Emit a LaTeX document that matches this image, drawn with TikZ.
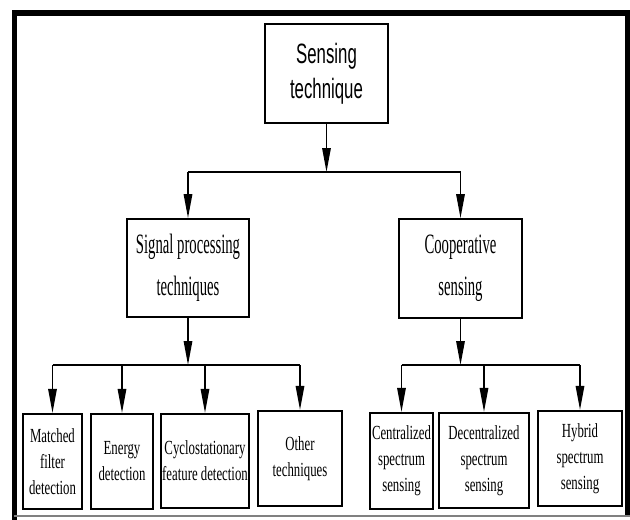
\documentclass[tikz,border=0pt]{standalone}
\usepackage{fontspec}
\setmainfont{Liberation Serif}
\newfontfamily\topfont[FakeStretch=0.6]{Liberation Sans}
\newfontfamily\midfont[FakeStretch=0.525]{Liberation Serif}
\newfontfamily\leaffont[FakeStretch=0.64]{Liberation Serif}
\usetikzlibrary{arrows.meta}
\begin{document}
\begin{tikzpicture}[x=1pt,y=-1pt,
  box/.style={draw, line width=1.6pt, inner sep=0pt, align=center},
  topbox/.style={box, font=\topfont\fontsize{28}{35}\selectfont},
  midbox/.style={box, line width=1.8pt, font=\midfont\fontsize{28}{42}\selectfont},
  leafbox/.style={box, line width=2.2pt, font=\leaffont\fontsize{20}{26}\selectfont},
  link/.style={line width=1.5pt},
  arr/.style={link, -{Triangle[length=24pt,width=8.5pt]}},
  frameline/.style={line width=#1}]
\useasboundingbox (0,0) rectangle (630,520);
% frame
\draw[frameline=6pt] (12,13) -- (629.5,13);
\draw[frameline=5pt] (14.5,10) -- (14.5,520);
\draw[frameline=4.5pt] (627.3,10) -- (627.3,516);
\draw[gray, line width=2pt] (14,516) -- (630,516);
% nodes
\node[topbox, minimum width=123pt, minimum height=99pt] (top) at (326.5,73.5) {Sensing\\technique};
\node[midbox, minimum width=122pt, minimum height=98pt] (sp) at (188,268) {Signal processing\\techniques};
\node[midbox, minimum width=123pt, minimum height=99pt] (coop) at (460.5,268.5) {Cooperative\\sensing};
\node[leafbox, minimum width=59pt, minimum height=95pt] (m1) at (52.5,461.5) {Matched\\filter\\detection};
\node[leafbox, minimum width=62pt, minimum height=95pt] (m2) at (122,461.5) {Energy\\detection};
\node[leafbox, minimum width=88pt, minimum height=94pt] (m3) at (205,461) {Cyclostationary\\feature detection};
\node[leafbox, minimum width=84pt, minimum height=95pt] (m4) at (300,458.5) {Other\\techniques};
\node[leafbox, minimum width=63pt, minimum height=96pt] (c1) at (401.5,461) {Centralized\\spectrum\\sensing};
\node[leafbox, minimum width=90pt, minimum height=95pt] (c2) at (484,460.5) {Decentralized\\spectrum\\sensing};
\node[leafbox, minimum width=84pt, minimum height=95pt] (c3) at (580,458.5) {Hybrid\\spectrum\\sensing};
% junctions
\coordinate (j1) at (326.5,172);
\coordinate (j2) at (188,365);
\coordinate (j3) at (460.5,365);
% connectors
\draw[arr] (top.south) -- (j1);
\draw[link] (sp.north |- j1) -- (coop.north |- j1);
\draw[arr] (sp.north |- j1) -- (sp.north);
\draw[arr] (coop.north |- j1) -- (coop.north);
\draw[arr] (sp.south) -- (j2);
\draw[link] (m1.north |- j2) -- (m4.north |- j2);
\foreach \n in {m1,m2,m3,m4} \draw[arr] (\n.north |- j2) -- (\n.north);
\draw[arr] (coop.south) -- (j3);
\draw[link] (c1.north |- j3) -- (c3.north |- j3);
\foreach \n in {c1,c2,c3} \draw[arr] (\n.north |- j3) -- (\n.north);
\end{tikzpicture}
\end{document}
